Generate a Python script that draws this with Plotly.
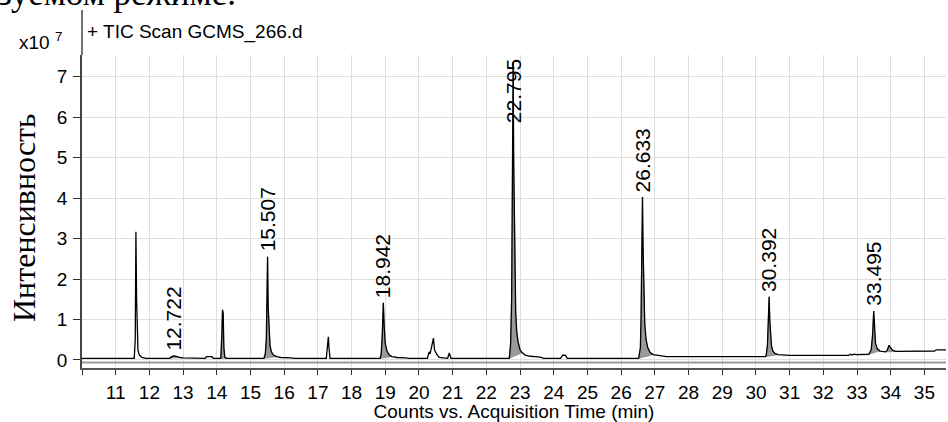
import plotly.graph_objects as go

# ---- data (time in min, intensity in x10^7 counts) ----
time_min = [
    10.00, 11.55, 11.58, 11.60, 11.62, 11.64, 11.66, 11.70, 11.78, 11.90,
    12.60, 12.66, 12.722, 12.80, 12.90, 13.00, 13.30, 13.35,
    13.65, 13.70, 13.85, 13.90,
    14.12, 14.15, 14.17, 14.19, 14.21, 14.24, 14.30,
    15.40, 15.44, 15.47, 15.49, 15.507, 15.525, 15.55, 15.58, 15.62, 15.68, 15.78, 15.90, 16.20, 16.30,
    17.25, 17.29, 17.31, 17.33, 17.36,
    18.85, 18.88, 18.91, 18.942, 18.97, 19.00, 19.05, 19.12, 19.20, 19.35, 19.60, 19.70,
    20.25, 20.30, 20.33, 20.37, 20.40, 20.43, 20.46, 20.52, 20.60, 20.70, 20.85, 20.90, 20.95,
    22.68, 22.72, 22.75, 22.78, 22.795, 22.81, 22.84, 22.87, 22.90, 22.94, 23.00, 23.06, 23.15, 23.30, 23.60, 23.70,
    24.20, 24.27, 24.35, 24.40,
    26.52, 26.57, 26.59, 26.61, 26.633, 26.65, 26.67, 26.70, 26.74, 26.79, 26.86, 26.95, 27.10, 27.25, 27.35,
    30.28, 30.30, 30.34, 30.36, 30.392, 30.41, 30.43, 30.46, 30.50, 30.56, 30.65, 30.90, 31.00,
    32.75, 32.80, 32.85, 32.90, 33.00, 33.35, 33.42, 33.46, 33.495, 33.52, 33.55, 33.60, 33.68,
    33.85, 33.90, 33.95, 34.00, 34.05, 34.15, 35.30, 35.35, 35.64,
]
intensity = [
    0.04, 0.04, 0.50, 3.17, 1.50, 0.50, 0.25, 0.12, 0.06, 0.04,
    0.04, 0.08, 0.10, 0.09, 0.06, 0.05, 0.05, 0.04,
    0.04, 0.08, 0.08, 0.04,
    0.04, 0.60, 1.24, 1.15, 0.30, 0.06, 0.04,
    0.04, 0.15, 0.50, 1.20, 2.55, 1.30, 0.60, 0.35, 0.20, 0.12, 0.08, 0.06, 0.05, 0.04,
    0.04, 0.30, 0.57, 0.30, 0.04,
    0.04, 0.15, 0.60, 1.41, 0.80, 0.40, 0.22, 0.12, 0.08, 0.06, 0.05, 0.04,
    0.04, 0.20, 0.15, 0.30, 0.35, 0.54, 0.25, 0.15, 0.06, 0.05, 0.04, 0.17, 0.04,
    0.04, 0.40, 1.50, 5.00, 7.35, 5.00, 2.50, 1.20, 0.70, 0.45, 0.25, 0.18, 0.12, 0.09, 0.07, 0.04,
    0.04, 0.12, 0.11, 0.04,
    0.04, 0.30, 1.00, 2.50, 4.03, 2.80, 1.50, 0.90, 0.50, 0.30, 0.18, 0.13, 0.11, 0.10, 0.08,
    0.08, 0.10, 0.35, 0.80, 1.56, 1.00, 0.60, 0.35, 0.22, 0.16, 0.13, 0.12, 0.11,
    0.11, 0.14, 0.12, 0.14, 0.13, 0.14, 0.25, 0.60, 1.21, 0.70, 0.40, 0.28, 0.22,
    0.20, 0.25, 0.36, 0.30, 0.24, 0.21, 0.22, 0.25, 0.25,
]

# labelled (integrated) peaks
peak_label_times = [12.722, 15.507, 18.942, 22.795, 26.633, 30.392, 33.495]
peak_label_texts = ["12.722", "15.507", "18.942", "22.795", "26.633", "30.392", "33.495"]

# integration windows (shaded areas)
fill_start = [12.60, 14.12, 15.40, 18.85, 22.68, 26.52, 30.28, 33.35, 33.85]
fill_end = [12.90, 14.30, 15.78, 19.20, 23.06, 26.95, 30.65, 33.68, 34.15]

x_tick_vals = list(range(11, 36))
x_tick_text = [str(v) for v in x_tick_vals]
x_edge_tick = [10]
y_tick_vals = list(range(0, 8))
y_tick_text = [str(v) for v in y_tick_vals]

# ---- layout constants ----
W, H = 948, 422
ML, MR, MT, MB = 82, 2, 55, 54
PW, PH = W - ML - MR, H - MT - MB
X_RANGE = [10.0, 35.64]
Y_RANGE = [-0.2, 7.54]
px_per_unit = PH / (Y_RANGE[1] - Y_RANGE[0])

def px_x(p):
    return (p - ML) / PW

def px_y(p):
    return (H - MB - p) / PH

SANS = "Liberation Sans, Arial, sans-serif"
SERIF = "Liberation Serif, Times New Roman, serif"

fig = go.Figure()

# shaded integrated areas
for a, b in zip(fill_start, fill_end):
    pts = [(t, v) for t, v in zip(time_min, intensity) if a <= t <= b]
    xs = [p[0] for p in pts]
    ys = [p[1] for p in pts]
    xs = xs + [xs[-1], xs[0]]
    ys = ys + [ys[-1], ys[0]]
    fig.add_trace(go.Scatter(x=xs, y=ys, mode="lines", fill="toself",
                             fillcolor="#9a9a9a", line=dict(color="#707070", width=0.6),
                             hoverinfo="skip", showlegend=False))

# trace line
fig.add_trace(go.Scatter(x=time_min, y=intensity, mode="lines",
                         line=dict(color="#000000", width=1.3),
                         showlegend=False))

annotations = []
# peak labels (clamped so that the label stays inside the plot)
label_len_px = 70
y_top_limit = Y_RANGE[1] - (label_len_px + 3) / px_per_unit
for t, txt in zip(peak_label_times, peak_label_texts):
    near = [v for tt, v in zip(time_min, intensity) if abs(tt - t) < 0.03]
    apex = max(near)
    ly = min(apex, y_top_limit)
    annotations.append(dict(x=t, y=ly, xref="x", yref="y", text=txt, textangle=-90,
                            showarrow=False, xanchor="center", yanchor="bottom",
                            yshift=3, font=dict(family=SANS, size=21, color="#000")))

# header texts
annotations += [
    dict(x=px_x(85), y=px_y(32), xref="paper", yref="paper", text="+ TIC Scan GCMS_266.d",
         showarrow=False, xanchor="left", yanchor="middle",
         font=dict(family=SANS, size=19, color="#000")),
    dict(x=px_x(64), y=px_y(41), xref="paper", yref="paper", text="x10 <sup>7</sup>",
         showarrow=False, xanchor="right", yanchor="middle",
         font=dict(family=SANS, size=19, color="#000")),
    dict(x=px_x(24), y=px_y(218), xref="paper", yref="paper", text="Интенсивность",
         textangle=-90, showarrow=False, xanchor="center", yanchor="middle",
         font=dict(family=SERIF, size=32, color="#000")),
    dict(x=px_x(-4), y=px_y(-7), xref="paper", yref="paper", text="зуемом режиме.",
         showarrow=False, xanchor="left", yanchor="middle",
         font=dict(family=SERIF, size=35, color="#000")),
]

shapes = [
    # y-axis line extension up to the header
    dict(type="line", xref="paper", yref="paper", x0=0, x1=0, y0=1, y1=px_y(10),
         line=dict(color="#444", width=1.5)),
    # inner grey frame line just above the x axis
    dict(type="line", xref="paper", yref="paper", x0=0, x1=1, y0=px_y(362.5), y1=px_y(362.5),
         line=dict(color="#9a9a9a", width=2)),
]

fig.update_layout(
    width=W, height=H,
    margin=dict(l=ML, r=MR, t=MT, b=MB),
    paper_bgcolor="white", plot_bgcolor="white",
    annotations=annotations, shapes=shapes,
    xaxis=dict(range=X_RANGE, tickvals=x_tick_vals, ticktext=x_tick_text,
               ticks="outside", ticklen=5, tickcolor="#333", tickwidth=1.2,
               minor=dict(tickvals=x_edge_tick, ticks="outside", ticklen=5,
                          tickcolor="#333", tickwidth=1.2, showgrid=False),
               showline=True, linecolor="#555", linewidth=1.5,
               showgrid=True, gridcolor="#dedede", gridwidth=1, zeroline=False,
               tickfont=dict(family=SANS, size=19, color="#000"), ticklabelstandoff=1,
               title=dict(text="Counts vs. Acquisition Time (min)", standoff=4,
                          font=dict(family=SANS, size=19, color="#000"))),
    yaxis=dict(range=Y_RANGE, tickvals=y_tick_vals, ticktext=y_tick_text,
               ticks="outside", ticklen=7, tickcolor="#333", tickwidth=1.2,
               showline=True, linecolor="#444", linewidth=1.5,
               showgrid=True, gridcolor="#dedede", gridwidth=1, zeroline=False,
               tickfont=dict(family=SANS, size=19, color="#000"), ticklabelstandoff=2),
)

fig.write_html("out.html", config={"displayModeBar": False},
               post_script="document.body.style.margin='0px';")
